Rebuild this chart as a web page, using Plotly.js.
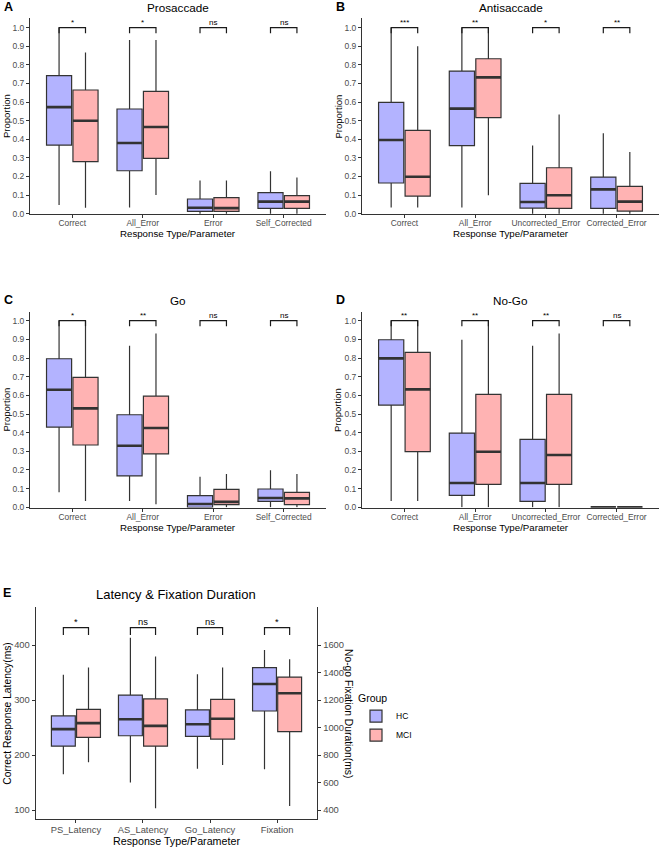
<!DOCTYPE html>
<html><head><meta charset="utf-8">
<script src="https://cdn.plot.ly/plotly-3.0.1.min.js"></script>
<style>html,body{margin:0;padding:0;background:#fff}#chart{width:662px;height:848px}</style>
</head><body><div id="chart"></div>
<script>
// each row: [lowerfence, q1, median, q3, upperfence]
const catsA = ['Correct','All_Error','Error','Self_Corrected'];
const prosHC  = [[0.047,0.369,0.573,0.742,1.0],[0.034,0.231,0.380,0.563,0.934],[0,0.013,0.032,0.079,0.179],[0,0.029,0.065,0.113,0.228]];
const prosMCI = [[0.032,0.280,0.500,0.665,0.867],[0.100,0.297,0.466,0.658,0.934],[0,0.013,0.030,0.086,0.179],[0,0.029,0.065,0.097,0.195]];
const sigA = ['*','*','ns','ns'];

const catsB = ['Correct','All_Error','Uncorrected_Error','Corrected_Error'];
const antiHC  = [[0.034,0.165,0.396,0.599,1.0],[0.034,0.366,0.565,0.767,1.0],[0,0.030,0.063,0.163,0.366],[0,0.029,0.131,0.197,0.432]];
const antiMCI = [[0.034,0.095,0.199,0.448,0.900],[0.099,0.516,0.733,0.833,1.0],[0,0.029,0.099,0.247,0.534],[0,0.014,0.065,0.147,0.332]];
const sigB = ['***','**','*','**'];

const catsC = ['Correct','All_Error','Error','Self_Corrected'];
const goHC  = [[0.080,0.430,0.630,0.796,1.0],[0.034,0.168,0.330,0.496,0.866],[0,0,0.018,0.063,0.164],[0,0.032,0.050,0.098,0.198]];
const goMCI = [[0.034,0.334,0.530,0.696,1.0],[0.016,0.286,0.425,0.596,0.932],[0,0.014,0.029,0.096,0.179],[0,0.014,0.048,0.080,0.179]];
const sigC = ['*','**','ns','ns'];

const catsD = ['Correct','All_Error','Uncorrected_Error','Corrected_Error'];
const nogoHC  = [[0.034,0.548,0.798,0.898,1.0],[0,0.064,0.130,0.398,0.898],[0,0.032,0.130,0.364,0.866],[0,0,0,0,0]];
const nogoMCI = [[0.034,0.298,0.632,0.830,1.0],[0,0.123,0.298,0.605,1.0],[0,0.123,0.280,0.605,0.932],[0,0,0,0,0]];
const sigD = ['**','**','**','ns'];

const catsE = ['PS_Latency','AS_Latency','Go_Latency','Fixation'];
const latHC  = [[165,216,247,271,346],[150,235,265,309,413],[175,234,256,282,347]];
const latMCI = [[187,232,258,283,359],[103,216,253,302,379],[182,229,266,301,359]];
const fixHC  = [696,1120,1316,1435,1564];   // No-go fixation duration (ms), right axis
const fixMCI = [429,970,1249,1367,1496];
const sigE = ['*','ns','ns','*'];
const fixScale = 4; // right axis = 4 x left axis

const W = 662, H = 848;
const px = x => x / W, py = y => 1 - y / H;
const FONT = 'Liberation Sans, Arial, Helvetica, sans-serif';
const HCfill = '#B3B3FF', MCIfill = '#FFB3B3', edge = '#333333';
const boxgap = 0.25, boxgroupgap = 0.05;
const off = (1 - boxgap) / 4;

const traces = [];
function addBoxes(rows, name, fill, xa, ya, legend) {
  const idx = rows.map((r, i) => i);
  const col = k => rows.map(r => r[k]);
  traces.push({type:'box', x: idx, lowerfence: col(0), q1: col(1), median: col(2), q3: col(3), upperfence: col(4),
    xaxis: xa, yaxis: ya, name: name, offsetgroup: name, legendgroup: name, fillcolor: fill,
    line: {color: edge, width: 1.2}, whiskerwidth: 0, boxpoints: false, showlegend: legend, hoverinfo: 'skip'});
  const m = col(2);
  traces.push({type:'box', x: idx, lowerfence: m, q1: m, median: m, q3: m, upperfence: m,
    xaxis: xa, yaxis: ya, name: name, offsetgroup: name, legendgroup: name, fillcolor: 'rgba(0,0,0,0)',
    line: {color: edge, width: 2.6}, whiskerwidth: 0, boxpoints: false, showlegend: false, hoverinfo: 'skip'});
}
const annotations = [];
function addBrackets(sig, lo, hi, xa, ya, fs) {
  const x = [], y = [];
  sig.forEach((s, i) => {
    x.push(i - off, i - off, i + off, i + off, null);
    y.push(lo, hi, hi, lo, null);
    annotations.push({xref: xa, yref: ya, x: i, y: hi, text: s, showarrow: false, yanchor: 'bottom', yshift: -1,
      font: {size: fs, color: '#000'}});
  });
  traces.push({type:'scatter', mode:'lines', x, y, xaxis: xa, yaxis: ya, line: {color: '#1a1a1a', width: 1.2},
    showlegend: false, hoverinfo: 'skip'});
}

// panels A-D
addBoxes(prosHC, 'HC', HCfill, 'x', 'y', false);   addBoxes(prosMCI, 'MCI', MCIfill, 'x', 'y', false);
addBoxes(antiHC, 'HC', HCfill, 'x2', 'y2', false); addBoxes(antiMCI, 'MCI', MCIfill, 'x2', 'y2', false);
addBoxes(goHC, 'HC', HCfill, 'x3', 'y3', false);   addBoxes(goMCI, 'MCI', MCIfill, 'x3', 'y3', false);
addBoxes(nogoHC, 'HC', HCfill, 'x4', 'y4', false); addBoxes(nogoMCI, 'MCI', MCIfill, 'x4', 'y4', false);
addBrackets(sigA, 0.97, 1.0, 'x', 'y', 8);
addBrackets(sigB, 0.97, 1.0, 'x2', 'y2', 8);
addBrackets(sigC, 0.97, 1.0, 'x3', 'y3', 8);
addBrackets(sigD, 0.97, 1.0, 'x4', 'y4', 8);
// panel E (fixation drawn on primary scale via secondary-axis factor)
const eHC = latHC.concat([fixHC.map(v => v / fixScale)]);
const eMCI = latMCI.concat([fixMCI.map(v => v / fixScale)]);
addBoxes(eHC, 'HC', HCfill, 'x5', 'y5', true);
addBoxes(eMCI, 'MCI', MCIfill, 'x5', 'y5', true);
addBrackets(sigE, 418, 431.5, 'x5', 'y5', 9.4);
traces.push({type:'scatter', mode:'markers', x:[0], y:[1000], xaxis:'x5', yaxis:'y6', marker:{opacity:0}, showlegend:false, hoverinfo:'skip'});

function xax(l, r, cats, anchor, fs) {
  return {domain: [px(l), px(r)], anchor, range: [-0.6, 3.6], tickvals: [0,1,2,3], ticktext: cats,
    showline: true, linecolor: edge, linewidth: 1, ticks: 'outside', ticklen: 3, tickcolor: edge, ticklabelstandoff: -2,
    tickfont: {size: fs, color: '#4D4D4D', family: FONT}, showgrid: false, zeroline: false, fixedrange: true};
}
function yax(zeroPx, k, top, bot, anchor, fs, extra) {
  const o = {domain: [py(bot), py(top)], anchor, range: [(zeroPx - bot) / k, (zeroPx - top) / k],
    showline: true, linecolor: edge, linewidth: 1, ticks: 'outside', ticklen: 3, tickcolor: edge,
    tickfont: {size: fs, color: '#4D4D4D', family: FONT}, showgrid: false, zeroline: false, fixedrange: true};
  return Object.assign(o, extra || {});
}
const propTicks = {tick0: 0, dtick: 0.1, tickformat: '.1f'};

const layout = {
  width: W, height: H, margin: {l:0, r:0, t:0, b:0}, paper_bgcolor: '#fff', plot_bgcolor: 'rgba(0,0,0,0)',
  font: {family: FONT, color: '#000'},
  boxmode: 'group', boxgap: boxgap, boxgroupgap: boxgroupgap,
  xaxis:  xax(30, 326, catsA, 'y', 8.4),
  xaxis2: xax(362, 659, catsB, 'y2', 8.4),
  xaxis3: xax(30, 326, catsC, 'y3', 8.4),
  xaxis4: xax(362, 659, catsD, 'y4', 8.4),
  xaxis5: xax(35.7, 317.3, catsE, 'y5', 9.4),
  yaxis:  yax(213.7, 186, 18, 214, 'x', 8.5, propTicks),
  yaxis2: yax(213.7, 186, 18, 214, 'x2', 8.5, propTicks),
  yaxis3: yax(507.3, 186.6, 311.5, 507.6, 'x3', 8.5, propTicks),
  yaxis4: yax(507.3, 186.6, 311.5, 507.6, 'x4', 8.5, propTicks),
  yaxis5: yax(810 + 100 * 0.55, 0.55, 606.7, 819.3, 'x5', 9.4, {tickvals: [100,200,300,400]}),
  yaxis6: yax(810 + 100 * 0.55, 0.55, 606.7, 819.3, 'x5', 9.4,
            {tickvals: [400,600,800,1000,1200,1400,1600], overlaying: 'y5', side: 'right'}),
  legend: {x: px(356), y: py(688), xanchor: 'left', yanchor: 'top', bgcolor: 'rgba(0,0,0,0)',
    title: {text: 'Group', font: {size: 10.5}}, font: {size: 8.5}, tracegroupgap: 0},
  showlegend: true,
  annotations: annotations
};
// secondary axis range is exactly fixScale times the primary one
layout.yaxis6.range = layout.yaxis5.range.map(v => v * fixScale);

function txt(x, y, text, size, extra) {
  annotations.push(Object.assign({xref: 'paper', yref: 'paper', x: px(x), y: py(y), text, showarrow: false,
    xanchor: 'center', yanchor: 'middle', font: {size, color: '#000', family: FONT}}, extra || {}));
}
// panel titles
txt(178, 7.5, 'Prosaccade', 11.7);
txt(510.5, 7.5, 'Antisaccade', 11.7);
txt(178, 300, 'Go', 11.7);
txt(510.5, 300, 'No-Go', 11.7);
txt(176.5, 594, 'Latency &amp; Fixation Duration', 13);
// panel letters
[['A',2,7],['B',334,7],['C',2,300],['D',334,300],['E',1,593]].forEach(([t,x,y]) =>
  txt(x, y, '<b>' + t + '</b>', 12.5, {xanchor: 'left'}));
// axis titles
txt(178, 233.5, 'Response Type/Parameter', 9.7);
txt(510.5, 233.5, 'Response Type/Parameter', 9.7);
txt(178, 527, 'Response Type/Parameter', 9.7);
txt(510.5, 527, 'Response Type/Parameter', 9.7);
txt(176.5, 841, 'Response Type/Parameter', 10.7);
txt(6, 116, 'Proportion', 9.5, {textangle: -90});
txt(337.5, 116, 'Proportion', 9.5, {textangle: -90});
txt(6, 409.5, 'Proportion', 9.5, {textangle: -90});
txt(337.5, 409.5, 'Proportion', 9.5, {textangle: -90});
txt(6.7, 713, 'Correct Response Latency(ms)', 10.3, {textangle: -90});
txt(349, 713, 'No-go Fixation Duration(ms)', 10.3, {textangle: 90});

Plotly.newPlot('chart', traces, layout, {staticPlot: true, displayModeBar: false});
</script></body></html>
